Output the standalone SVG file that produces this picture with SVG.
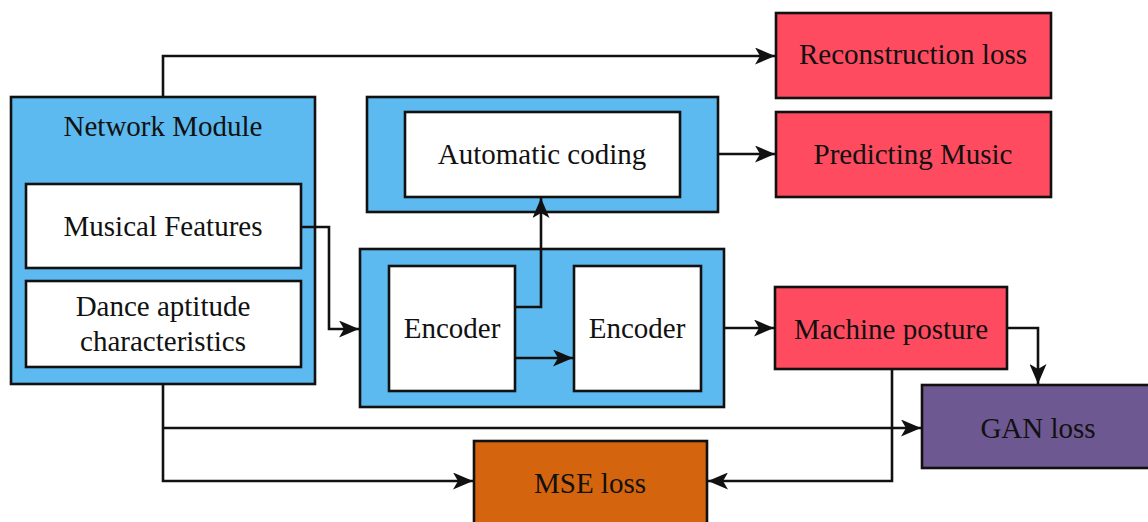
<svg xmlns="http://www.w3.org/2000/svg" width="1148" height="522" viewBox="0 0 1148 522">
  <style>
    .box { stroke: #111; stroke-width: 2.6; }
    .blue { fill: #5DBAF0; }
    .white { fill: #FFFFFF; }
    .red { fill: #FF4B60; }
    .purple { fill: #6E5891; }
    .orange { fill: #D4640E; }
    .lbl { font-family: "Liberation Serif", "Times New Roman", serif; font-size: 29px; fill: #111; text-anchor: middle; }
    .wire { fill: none; stroke: #111; stroke-width: 2.6; }
  </style>
  <defs>
    <marker id="arrow" viewBox="0 0 20 17" refX="20" refY="8.5" markerWidth="20" markerHeight="17" markerUnits="userSpaceOnUse" orient="auto">
      <path d="M0,0 L20,8.5 L0,17 L5,8.5 Z" fill="#111"/>
    </marker>
  </defs>
  <rect width="1148" height="522" fill="#FFFFFF"/>

  <!-- Network Module -->
  <g id="network-module">
    <rect class="box blue" x="11" y="97" width="304" height="287"/>
    <text class="lbl" x="163" y="136">Network Module</text>
  </g>
  <g id="musical-features">
    <rect class="box white" x="26" y="184" width="275" height="84"/>
    <text class="lbl" x="163" y="236">Musical Features</text>
  </g>
  <g id="dance-aptitude">
    <rect class="box white" x="26" y="281" width="275" height="86"/>
    <text class="lbl" x="163" y="316">Dance aptitude</text>
    <text class="lbl" x="163" y="351">characteristics</text>
  </g>

  <!-- Automatic coding -->
  <g id="auto-coding">
    <rect class="box blue" x="367" y="97" width="351" height="115"/>
    <rect class="box white" x="405" y="112" width="275" height="85"/>
    <text class="lbl" x="542" y="164">Automatic coding</text>
  </g>

  <!-- Encoder pair -->
  <g id="encoder-block">
    <rect class="box blue" x="360" y="249" width="364" height="158"/>
  </g>
  <g id="encoder-1">
    <rect class="box white" x="389" y="266" width="126" height="125"/>
    <text class="lbl" x="452" y="338">Encoder</text>
  </g>
  <g id="encoder-2">
    <rect class="box white" x="574" y="266" width="127" height="125"/>
    <text class="lbl" x="637" y="338">Encoder</text>
  </g>

  <!-- Loss and output nodes -->
  <g id="reconstruction-loss">
    <rect class="box red" x="776" y="13" width="275" height="85"/>
    <text class="lbl" x="913" y="64">Reconstruction loss</text>
  </g>
  <g id="predicting-music">
    <rect class="box red" x="776" y="112" width="275" height="85"/>
    <text class="lbl" x="913" y="164">Predicting Music</text>
  </g>
  <g id="machine-posture">
    <rect class="box red" x="775" y="287" width="232" height="82"/>
    <text class="lbl" x="891" y="339">Machine posture</text>
  </g>
  <g id="gan-loss">
    <rect class="box purple" x="922" y="385" width="240" height="83"/>
    <text class="lbl" x="1038" y="438">GAN loss</text>
  </g>
  <g id="mse-loss">
    <rect class="box orange" x="474" y="441" width="233" height="95"/>
    <text class="lbl" x="590" y="493">MSE loss</text>
  </g>

  <!-- Connectors, drawn over the containers -->
  <g id="connectors">
    <path class="wire" d="M163,97 V56 H775" marker-end="url(#arrow)"/>
    <path class="wire" d="M301,227 H329 V329 H359" marker-end="url(#arrow)"/>
    <path class="wire" d="M515,307 H541 V198" marker-end="url(#arrow)"/>
    <path class="wire" d="M515,358 H573" marker-end="url(#arrow)"/>
    <path class="wire" d="M718,154 H775" marker-end="url(#arrow)"/>
    <path class="wire" d="M724,328 H774" marker-end="url(#arrow)"/>
    <path class="wire" d="M1007,328 H1038 V384" marker-end="url(#arrow)"/>
    <path class="wire" d="M163,384 V481 H473" marker-end="url(#arrow)"/>
    <path class="wire" d="M163,428 H921" marker-end="url(#arrow)"/>
    <path class="wire" d="M892,369 V481 H708" marker-end="url(#arrow)"/>
  </g>
</svg>
